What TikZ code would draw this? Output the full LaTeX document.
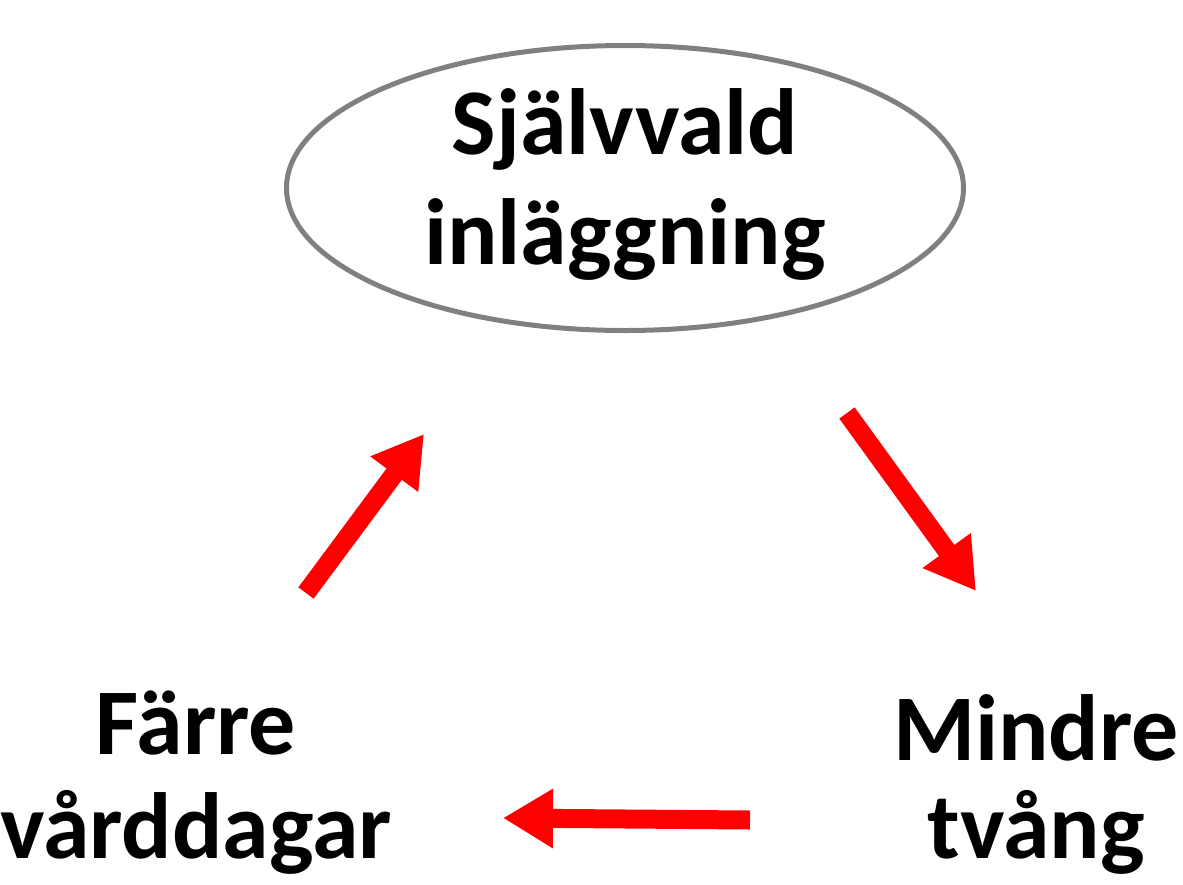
\documentclass[tikz,border=0pt]{standalone}
\usepackage{fontspec}
\setmainfont{Carlito}
\usetikzlibrary{arrows.meta,shapes.geometric}
\tikzset{
  lbl/.style={font=\bfseries\fontsize{94}{104}\selectfont, align=center, inner sep=0pt},
  bigarrow/.style={draw=red, line width=19pt, -{Triangle[width=56pt,length=50pt]}, fill=red},
  oval/.style={ellipse, draw={rgb,255:red,128;green,128;blue,128}, line width=5pt, minimum width=677pt, minimum height=285pt, inner sep=0pt}
}
\begin{document}
\begin{tikzpicture}[x=1pt,y=-1pt]
\useasboundingbox (0,0) rectangle (1183,884);
\node[oval] (top) at (625,188) {};
\node[lbl, font=\bfseries\fontsize{94}{110}\selectfont] (toptext) at (625,184) {Självvald\\inläggning};
\node[lbl] (left) at (196,783) {Färre\\vårddagar};
\node[lbl, font=\bfseries\fontsize{94}{98}\selectfont] (right) at (1036,784) {Mindre\\tvång};
\coordinate (a1s) at (306,593);
\coordinate (a1e) at (424,434);
\coordinate (a2s) at (847,413);
\coordinate (a2e) at (976,591);
\coordinate (a3s) at (750,820);
\coordinate (a3e) at (503,818);
\draw[bigarrow] (a1s) -- (a1e);
\draw[bigarrow] (a2s) -- (a2e);
\draw[bigarrow] (a3s) -- (a3e);
\end{tikzpicture}
\end{document}
